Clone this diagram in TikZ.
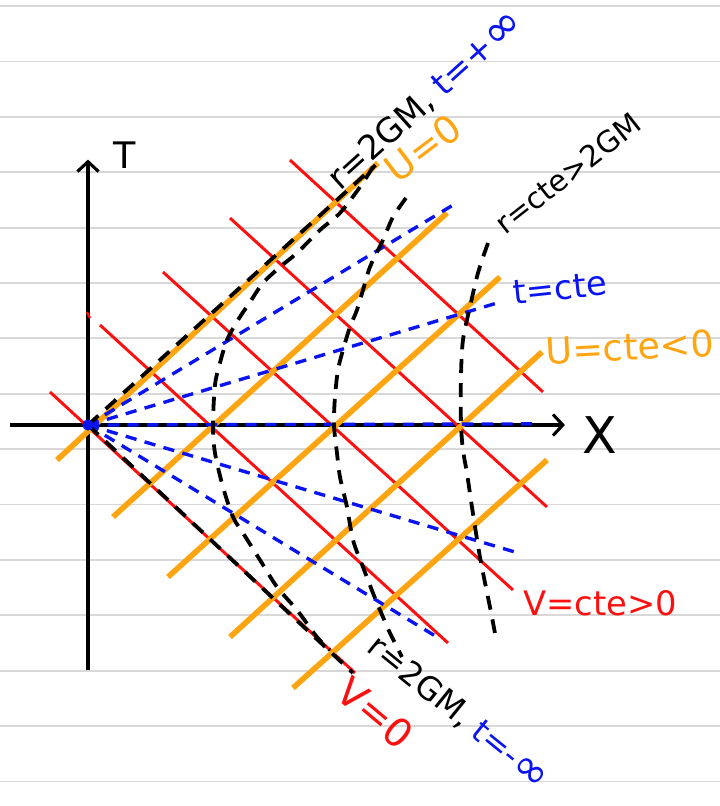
\documentclass[tikz,border=0pt]{standalone}
\usepackage{fontspec}
\setmainfont{DejaVu Sans}
\usepackage{xcolor}
\usepackage{graphicx}
\usetikzlibrary{arrows.meta}
\definecolor{redV}{HTML}{FF1010}
\definecolor{orangeU}{HTML}{FFA511}
\definecolor{blueT}{HTML}{0A14F0}
\definecolor{paper}{HTML}{D8D8D8}
\newcommand{\bigInf}{\raisebox{-0.05em}{\scalebox{1.35}{∞}}}

\begin{document}
\begin{tikzpicture}[x=3.125cm, y=2.8cm,
    paperLine/.style={draw=paper, line width=1.3pt},
    axisLine/.style={draw=black, line width=2.4pt, -{Straight Barb[length=7pt, width=15pt, line width=2.2pt]}},
    vLine/.style={draw=redV, line width=2.1pt},
    uLine/.style={draw=orangeU, line width=4pt},
    tLine/.style={draw=blueT, line width=2.4pt, dash pattern=on 8pt off 6pt},
    rLine/.style={draw=black, line width=2.7pt, dash pattern=on 10pt off 7pt},
    labelText/.style={font=\fontsize{24}{28}\selectfont, inner sep=0pt}
]
    \useasboundingbox (-0.704, -3.402) rectangle (5.056, 3.795);
    \fill[white] (-0.704, -3.402) rectangle (5.056, 3.795);

    % ruled paper
    \foreach \k in {0,...,14}
        \draw[paperLine] (-0.704, {3.741-0.4946*\k}) -- (5.056, {3.741-0.4946*\k});

    \coordinate (O) at (0, 0);

    % axes
    \draw[axisLine] (-0.624, 0) -- (3.816, 0);
    \draw[axisLine] (0, -2.19) -- (0, 2.37);
    \node[font=\fontsize{26}{30}\selectfont, inner sep=0pt] (axisT) at (0.296, 2.41) {T};
    \node[font=\fontsize{36}{40}\selectfont, inner sep=0pt] (axisX) at (4.096, -0.089) {X};

    % V = cte
    \draw[vLine, line width=1.6pt] (-0.008, 1.009) -- (0.016, 0.955);
    \foreach \xa/\ya/\xb/\yb in {-0.304/0.295/2.136/-2.214, 0.096/0.893/2.88/-1.946,
            0.6/1.366/3.4/-1.473, 1.136/1.848/3.672/-0.732, 1.616/2.366/3.64/0.295}
        \draw[vLine] (\xa, \ya) -- (\xb, \yb);

    % U = cte
    \foreach \xa/\ya/\xb/\yb in {-0.248/-0.3125/2.32/2.339, 0.2/-0.821/2.872/1.893,
            0.64/-1.357/3.296/1.321, 1.136/-1.893/3.632/0.652, 1.64/-2.348/3.672/-0.3125}
        \draw[uLine] (\xa, \ya) -- (\xb, \yb);

    % t = cte
    \foreach \xb/\yb in {2.92/1.964, 3.272/1.089, 3.6/0.01, 3.416/-1.134, 2.792/-1.893}
        \draw[tLine] (O) -- (\xb, \yb);

    % r = 2GM and r = cte
    \draw[rLine] (O) -- (2.3, 2.32);
    \draw[rLine] (O) -- (2.12, -2.214);
    \draw[rLine] plot[smooth] coordinates {(2.28,2.304) (2.176,2.125) (2.016,1.893)
        (1.856,1.741) (1.672,1.536) (1.536,1.411) (1.4,1.268) (1.296,1.098) (1.2,0.9375)
        (1.112,0.759) (1.056,0.554) (1.016,0.357) (1.0,0) (1.016,-0.25) (1.08,-0.554)
        (1.16,-0.821) (1.24,-0.964) (1.376,-1.205) (1.512,-1.446) (1.672,-1.652)
        (1.832,-1.893) (1.936,-2.009)};
    \draw[rLine] plot[smooth] coordinates {(2.544,2.027) (2.44,1.857) (2.36,1.652)
        (2.256,1.411) (2.2,1.205) (2.152,1.027) (2.096,0.875) (2.04,0.67) (2.0,0.491)
        (1.976,0.25) (1.968,0) (1.992,-0.25) (2.016,-0.464) (2.072,-0.732) (2.12,-1.027)
        (2.2,-1.268) (2.28,-1.5) (2.336,-1.652) (2.416,-1.857) (2.512,-2.071)};
    \draw[rLine] plot[smooth] coordinates {(3.2,1.625) (3.12,1.357) (3.056,1.054)
        (3.0,0.759) (2.984,0.429) (2.984,0.018) (3.0,-0.223) (3.032,-0.429) (3.072,-0.732)
        (3.136,-1.179) (3.216,-1.625) (3.256,-1.857)};

    \fill[blueT] (O) circle[radius=4pt];

    % labels
    \node[labelText, rotate=42] (horizonTop) at (2.70, 2.90) {r=2GM, \textcolor{blueT}{t=+\bigInf}};
    \node[labelText, text=orangeU, rotate=37, font=\fontsize{27}{30}\selectfont] (uZero) at (2.68, 2.473) {U=0};
    \node[labelText, rotate=38, font=\fontsize{21}{24}\selectfont] (rConst) at (3.84, 2.25) {r=cte>2GM};
    \node[labelText, text=blueT, rotate=6] (tConst) at (3.776, 1.223) {t=cte};
    \node[labelText, text=orangeU, rotate=3, font=\fontsize{26}{30}\selectfont] (uConst) at (4.336, 0.696) {U=cte<0};
    \node[labelText, text=redV] (vConst) at (4.096, -1.589) {V=cte>0};
    \node[labelText, text=redV, rotate=-40, font=\fontsize{28}{30}\selectfont] (vZero) at (2.3, -2.57) {V=0};
    \node[labelText, rotate=-39, font=\fontsize{23}{26}\selectfont] (horizonBot) at (2.96, -2.57) {r=2GM, \textcolor{blueT}{t=-\bigInf}};
\end{tikzpicture}
\end{document}
